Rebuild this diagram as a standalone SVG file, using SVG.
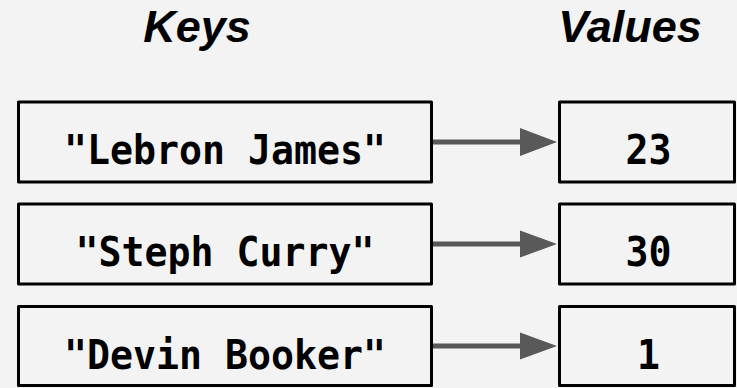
<svg xmlns="http://www.w3.org/2000/svg" width="737" height="388" viewBox="0 0 737 388">
  <style>
    .box { fill: #f3f3f3; stroke: #000; stroke-width: 3; stroke-linejoin: round; }
    .lbl { font-family: "DejaVu Sans Mono", "Liberation Mono", monospace; font-weight: bold; font-size: 40px; fill: #000; text-anchor: middle; }
    .hdr { font-family: "Liberation Sans", Arial, sans-serif; font-weight: bold; font-style: italic; font-size: 45px; fill: #000; text-anchor: middle; }
    .conn { stroke: #595959; stroke-width: 5; fill: none; }
    .head { fill: #595959; }
  </style>
  <rect width="737" height="388" fill="#f3f3f3"/>
  <text class="hdr" x="197" y="41.5">Keys</text>
  <text class="hdr" x="630" y="41.5">Values</text>

  <g id="key-lebron">
    <rect class="box" x="18.5" y="102" width="413" height="80"/>
    <text class="lbl" x="225" y="164" textLength="322" lengthAdjust="spacingAndGlyphs">"Lebron James"</text>
  </g>
  <g id="key-steph">
    <rect class="box" x="18.5" y="204" width="413" height="80"/>
    <text class="lbl" x="225" y="266" textLength="299" lengthAdjust="spacingAndGlyphs">"Steph Curry"</text>
  </g>
  <g id="key-devin">
    <rect class="box" x="18.5" y="306.5" width="413" height="79"/>
    <text class="lbl" x="225" y="369" textLength="322" lengthAdjust="spacingAndGlyphs">"Devin Booker"</text>
  </g>

  <g id="val-23">
    <rect class="box" x="559.5" y="102" width="175" height="80"/>
    <text class="lbl" x="648.5" y="164" textLength="46" lengthAdjust="spacingAndGlyphs">23</text>
  </g>
  <g id="val-30">
    <rect class="box" x="559.5" y="204" width="175" height="80"/>
    <text class="lbl" x="648.5" y="266" textLength="46" lengthAdjust="spacingAndGlyphs">30</text>
  </g>
  <g id="val-1">
    <rect class="box" x="559.5" y="306.5" width="175" height="79"/>
    <text class="lbl" x="648.5" y="369" textLength="23" lengthAdjust="spacingAndGlyphs">1</text>
  </g>

  <g id="connectors">
    <line class="conn" x1="433" y1="142" x2="522" y2="142"/>
    <polygon class="head" points="520,128 557,142 520,156"/>
    <line class="conn" x1="433" y1="244" x2="522" y2="244"/>
    <polygon class="head" points="520,230.5 557,244 520,257.5"/>
    <line class="conn" x1="433" y1="346" x2="522" y2="346"/>
    <polygon class="head" points="520,332.5 557,346 520,359.5"/>
  </g>
</svg>
